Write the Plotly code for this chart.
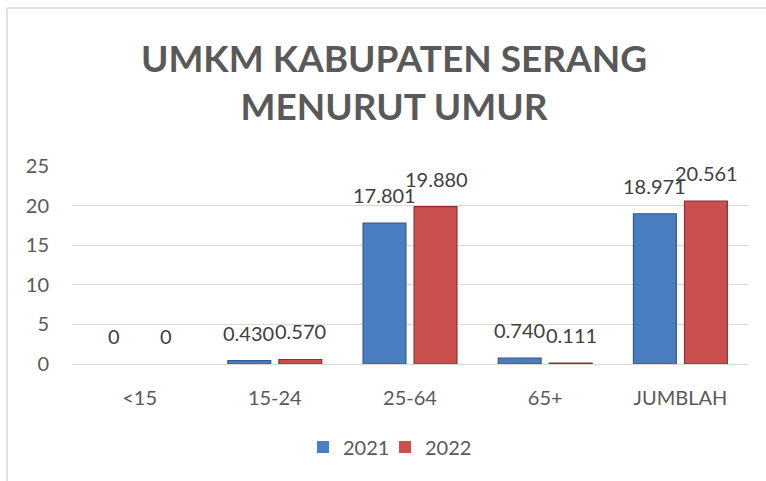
import plotly.graph_objects as go

categories = ["<15", "15-24", "25-64", "65+", "JUMBLAH"]
values_2021 = [0, 0.430, 17.801, 0.740, 18.971]
values_2022 = [0, 0.570, 19.880, 0.111, 20.561]
labels_2021 = ["0", "0.430", "17.801", "0.740", "18.971"]
labels_2022 = ["0", "0.570", "19.880", "0.111", "20.561"]
series_names = ["2021", "2022"]
y_ticks = [0, 5, 10, 15, 20, 25]

W, H = 766, 481
ML, MR, MT, MB = 72, 18, 166, 117
PW = W - ML - MR
PH = H - MT - MB

def py(pix):  # pixel y -> paper y
    return (H - MB - pix) / PH

def px(pix):
    return (pix - ML) / PW

FONT = "Lato, 'Open Sans', sans-serif"
GREY = "#595959"

fig = go.Figure()
fig.add_trace(go.Bar(
    x=categories, y=values_2021, name=series_names[0], legend="legend",
    marker=dict(color="#4a7ec0",
                line=dict(color="#2f5b8f", width=[1.2 if v > 0 else 0 for v in values_2021])),
))
fig.add_trace(go.Bar(
    x=categories, y=values_2022, name=series_names[1], legend="legend2",
    marker=dict(color="#c9504e",
                line=dict(color="#8e2f2d", width=[1.2 if v > 0 else 0 for v in values_2022])),
))

annotations = []
for vals, labs, shift in [(values_2021, labels_2021, -26), (values_2022, labels_2022, 26)]:
    for c, v, t in zip(categories, vals, labs):
        annotations.append(dict(
            x=c, y=v, xref="x", yref="y", text=t, showarrow=False,
            xshift=shift, yshift=14, yanchor="bottom", xanchor="center",
            font=dict(family=FONT, size=20, color="#404040"),
        ))

legend_common = dict(
    orientation="h", xanchor="left", yref="container", y=1 - 447 / H, yanchor="middle",
    font=dict(family=FONT, size=20, color=GREY), itemwidth=30, xref="container",
    bgcolor="rgba(0,0,0,0)",
)

fig.update_layout(
    width=W, height=H,
    margin=dict(l=ML, r=MR, t=MT, b=MB),
    paper_bgcolor="white", plot_bgcolor="white",
    barmode="group", bargap=0.245, bargroupgap=0.16,
    title=dict(
        text="UMKM KABUPATEN SERANG<br>MENURUT UMUR",
        x=394 / W, xanchor="center", xref="container",
        y=1 - 72 / H, yanchor="middle", yref="container",
        font=dict(family=FONT, size=37, color=GREY, weight="bold"),
    ),
    xaxis=dict(
        showgrid=False, showline=False, ticks="",
        tickfont=dict(family=FONT, size=20, color=GREY),
        ticklabelstandoff=20,
    ),
    yaxis=dict(
        range=[0, 25], tickvals=y_ticks, showgrid=True, gridcolor="#d9d9d9",
        gridwidth=1.3, zeroline=True, zerolinecolor="#d9d9d9", zerolinewidth=1.3,
        showline=False, ticks="",
        tickfont=dict(family=FONT, size=20, color=GREY),
        ticklabelstandoff=22,
    ),
    legend=dict(x=303 / W, **legend_common),
    legend2=dict(x=385 / W, **legend_common),
    annotations=annotations,
    shapes=[
        dict(type="line", xref="paper", yref="paper", x0=px(7), x1=px(W + 5), y0=py(8), y1=py(8),
             line=dict(color="#d9d9d9", width=1.5)),
        dict(type="line", xref="paper", yref="paper", x0=px(7), x1=px(7), y0=py(8), y1=py(H + 5),
             line=dict(color="#d9d9d9", width=1.5)),
    ],
    showlegend=True,
)

fig.write_html("out.html", config={"displayModeBar": False},
               post_script="document.body.style.margin='0';document.body.style.overflow='hidden';")
